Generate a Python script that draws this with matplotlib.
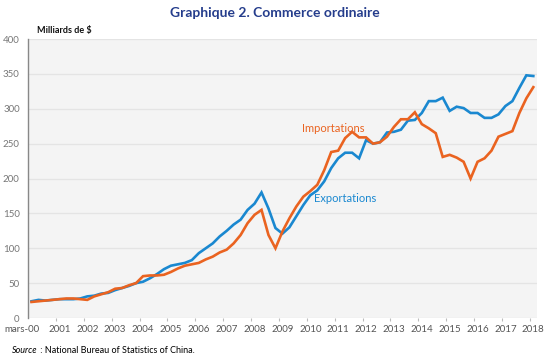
import matplotlib.pyplot as plt
import numpy as np

# trimestriel, mars 2000 -> mars 2018 (milliards de $)
exportations = [24, 26, 25, 26, 27, 27, 27, 28, 31, 32, 35, 36, 40, 43, 46, 50,
                52, 57, 63, 70, 75, 77, 79, 83, 93, 100, 107, 117, 125, 134, 141, 155,
                164, 180, 157, 129, 121, 130, 146, 162, 176, 183, 196, 215, 229, 237, 237, 229,
                255, 250, 252, 266, 267, 270, 283, 284, 294, 311, 311, 316, 297, 303, 301, 294,
                294, 287, 287, 292, 304, 311, 330, 348, 347]
importations = [23, 24, 25, 26, 27, 28, 28, 27, 26, 31, 34, 37, 42, 43, 47, 50,
                60, 61, 61, 62, 66, 71, 75, 77, 79, 84, 88, 94, 98, 107, 119, 136,
                148, 155, 119, 100, 124, 143, 160, 174, 182, 191, 212, 238, 240, 258, 267, 259,
                259, 250, 252, 260, 274, 285, 285, 295, 278, 272, 265, 231, 234, 230, 224, 200,
                224, 229, 240, 260, 264, 268, 294, 315, 331]
annees = ["mars-00"] + [str(a) for a in range(2001, 2019)]

bleu = "#1a88d0"
orange = "#ea6320"
plt.rcParams['font.family'] = ['Lato', 'DejaVu Sans']

fig = plt.figure(figsize=(5.5, 3.59), dpi=100)
ax = fig.add_axes([0.051, 0.1142, 0.925, 0.777])
ax.set_facecolor("#f4f4f4")

x = np.arange(len(exportations))
ax.plot(x, exportations, color=bleu, lw=1.9, solid_joinstyle="miter")
ax.plot(x, importations, color=orange, lw=1.9, solid_joinstyle="miter")

ax.set_xlim(-0.5, len(x) - 0.5)
ax.set_ylim(0, 400)
ax.set_yticks(np.arange(0, 401, 50))
ax.tick_params(axis="y", length=0, labelsize=7, labelcolor="#777777", pad=6)
ax.grid(axis="y", color="#e4e4e4", lw=0.9)
ax.set_axisbelow(True)

# graduations entre les années, étiquettes au centre
ax.set_xticks(np.arange(3.5, len(x), 4))
ax.set_xticklabels([])
ax.tick_params(axis="x", which="major", length=2.5, color="#bbbbbb")
ax.set_xticks(np.arange(4, len(x), 4), minor=True)
ax.set_xticklabels(annees[1:], minor=True)
ax.tick_params(axis="x", which="minor", length=0, labelsize=7, labelcolor="#555555", pad=5)
# première étiquette décalée à gauche comme dans l'original
ax.text(-1.4, -0.025, annees[0], transform=ax.get_xaxis_transform(), ha="center", va="top",
        fontsize=7, color="#555555")

for s in ["top", "right", "bottom"]:
    ax.spines[s].set_visible(False)
ax.spines["left"].set_color("#888888")
ax.spines["left"].set_linewidth(1)

ax.text(43.3, 272, "Importations", color=orange, fontsize=8, ha="center", va="center")
ax.text(45, 172, "Exportations", color=bleu, fontsize=8, ha="center", va="center")

fig.text(0.5, 0.965, "Graphique 2. Commerce ordinaire", ha="center", va="center",
         fontsize=10, fontweight="bold", color="#253d8c")
fig.text(0.067, 0.915, "Milliards de $", ha="left", va="center", fontsize=6.5,
         fontweight="bold", color="#111111")
fig.text(0.022, 0.025, "Source", ha="left", va="center", fontsize=6.5, style="italic")
fig.text(0.069, 0.025, " : National Bureau of Statistics of China.", ha="left", va="center",
         fontsize=6.5)

fig.savefig("out.png", dpi=100)
